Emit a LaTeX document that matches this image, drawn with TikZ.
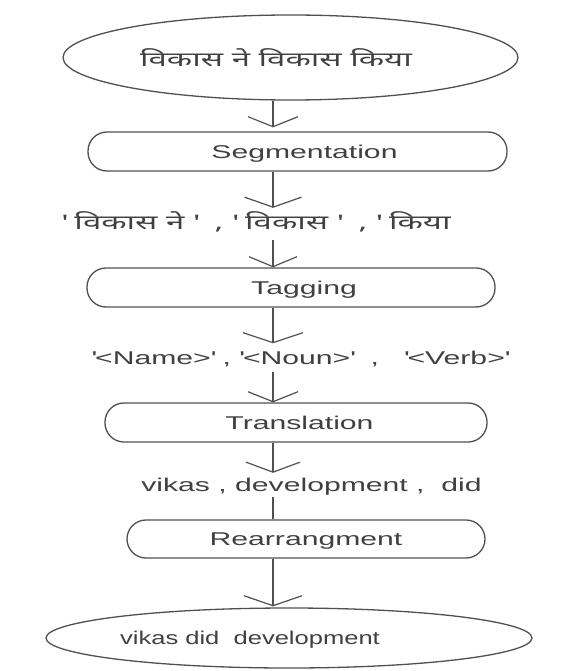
\documentclass[tikz,border=0pt]{standalone}
\usepackage{fontspec}
\setmainfont{Liberation Sans}[FakeStretch=1.63]
\newfontfamily\latnarrow{Liberation Sans}[FakeStretch=1.38]
\newfontfamily\deva{Noto Sans}[Script=Devanagari,FakeStretch=1.65]
\usetikzlibrary{arrows.meta,shapes.geometric}
\definecolor{linegray}{HTML}{505050}
\definecolor{txtgray}{HTML}{404040}
\newcommand{\lfont}{\fontsize{18.5pt}{20pt}\selectfont}
\newcommand{\dfont}{\fontsize{20pt}{22pt}\selectfont\deva}
\newcommand{\q}{\textquotesingle}
\tikzset{
  flowline/.style={draw=linegray, line width=1.3pt},
  arr/.style={flowline, -{Straight Barb[length=10pt,width=#1,line width=1.2pt]}},
  arr/.default=52pt,
  stadium/.style={draw=linegray, line width=1.3pt, rectangle, rounded corners=19pt,
    inner sep=0pt, text=txtgray, font=\lfont, text height=13pt, text depth=0pt},
  oval/.style={draw=linegray, line width=1.3pt, ellipse, inner sep=0pt},
  lbl/.style={inner sep=0pt, text=txtgray, font=\lfont, text height=12pt, text depth=4pt},
}
\begin{document}
\begin{tikzpicture}[x=1pt,y=-1pt]
\fill[white] (0,0) rectangle (586,671);
\useasboundingbox (0,0) rectangle (586,671);
\coordinate (ax) at (273,0);
% shapes
\node[oval, minimum width=455pt, minimum height=85pt] (start) at (290.5,57.5) {};
\node[lbl, anchor=base, font=\dfont] (starttext) at (276,67) {विकास ने विकास किया};
\node[stadium, minimum width=419pt, minimum height=39pt] (seg) at (297.5,151.5) {\hspace*{14pt}Segmentation};
\node[lbl, anchor=base, font=\dfont] (t1) at (256,229) {\q\ विकास ने\ \q\ \ ,\ \q\ विकास\ \q\ \ ,\ \q\ किया};
\node[stadium, minimum width=408pt, minimum height=39pt] (tag) at (291,287.5) {\hspace*{26pt}Tagging};
\node[lbl, anchor=base] (t2) at (300,364.5) {\q<Name>\q\ ,\ \q<Noun>\q\ \ ,\ \ \ \q<Verb>\q};
\node[stadium, minimum width=382pt, minimum height=39pt] (trans) at (296,422.5) {\hspace*{7pt}Translation};
\node[lbl, anchor=base] (t3) at (311.5,491) {vikas , development ,\ \ did};
\node[stadium, minimum width=358pt, minimum height=38pt] (rear) at (306,539) {Rearrangment};
\node[oval, minimum width=486pt, minimum height=60pt] (stop) at (289,638) {};
\node[lbl, anchor=base, font=\lfont\latnarrow] (stoptext) at (250,644) {vikas did\ \ development};
% connectors
\draw[arr=50pt, shorten >=4pt] (start.south -| ax) -- (seg.north -| ax);
\draw[arr=57pt, shorten >=9pt] (seg.south -| ax) -- (t1.north -| ax);
\draw[arr=48pt, shorten <=7pt] (t1.south -| ax) -- (tag.north -| ax);
\draw[arr=60pt, shorten >=9pt] (tag.south -| ax) -- (t2.north -| ax);
\draw[arr=50pt, shorten <=3pt] (t2.south -| ax) -- (trans.north -| ax);
\draw[arr=54pt, shorten >=6pt] (trans.south -| ax) -- (t3.north -| ax);
\draw[flowline, shorten <=2pt] (t3.south -| ax) -- (rear.north -| ax);
\draw[arr=58pt, shorten >=1pt] (rear.south -| ax) -- (stop.north -| ax);
\end{tikzpicture}
\end{document}
